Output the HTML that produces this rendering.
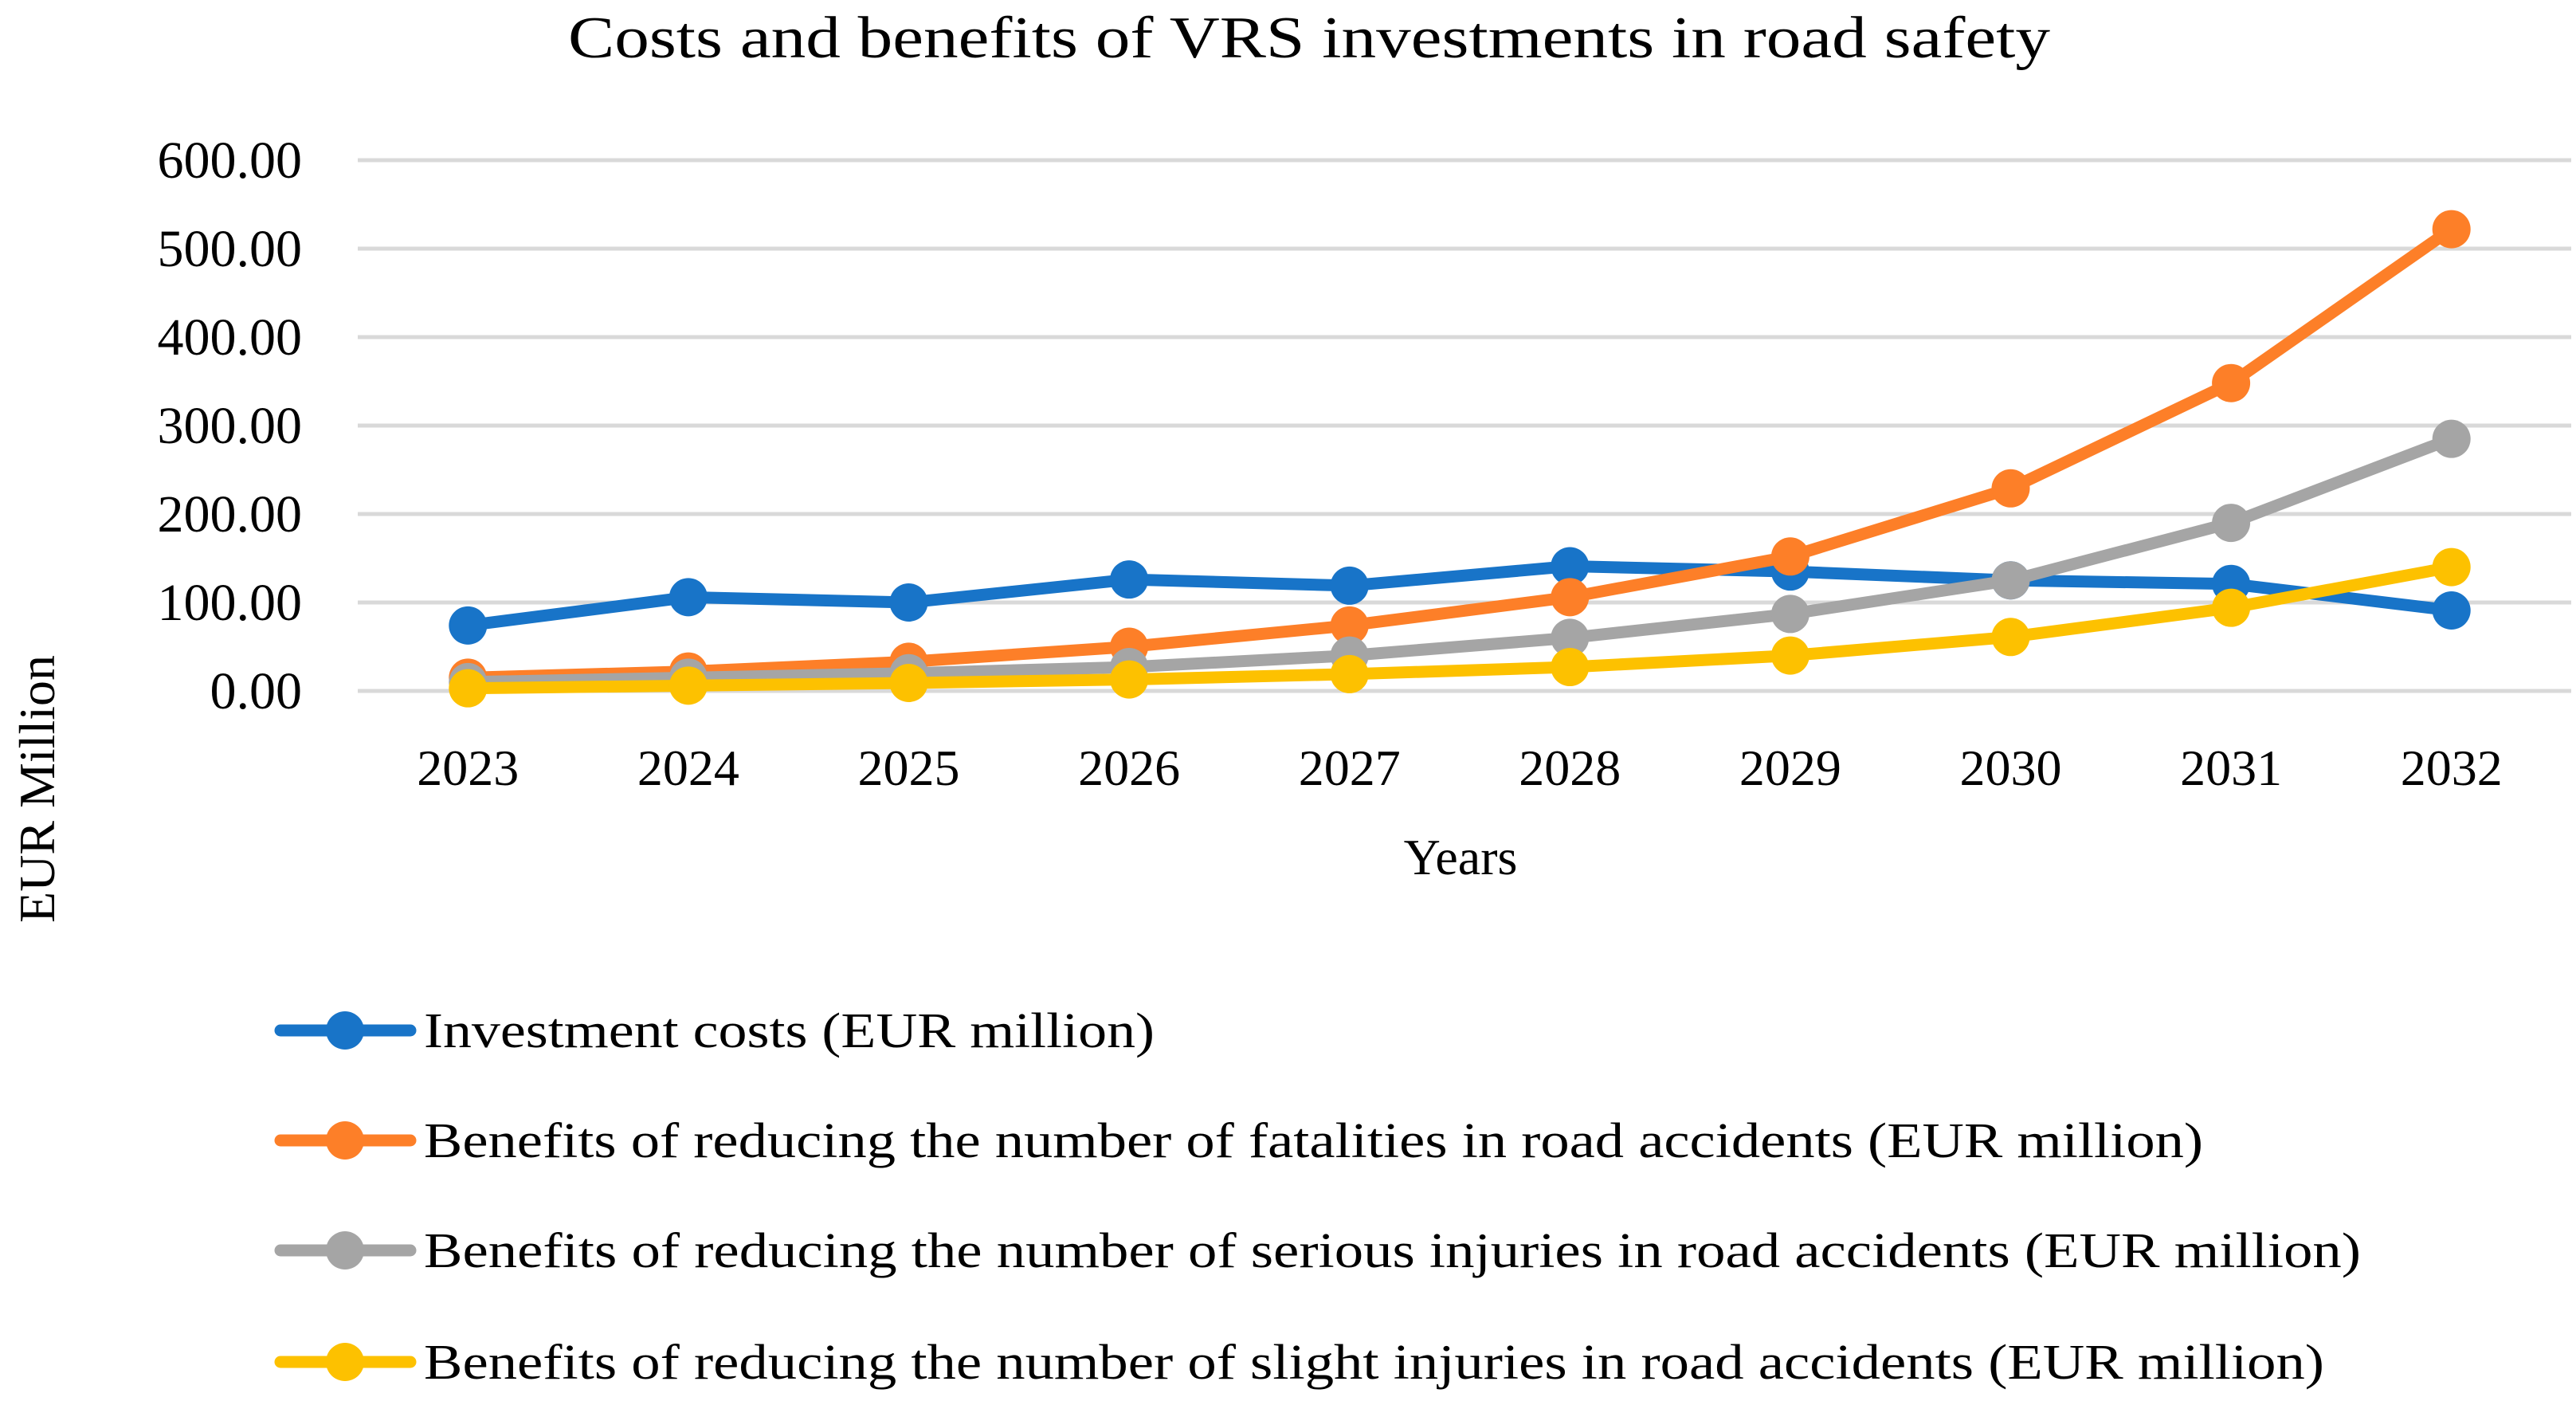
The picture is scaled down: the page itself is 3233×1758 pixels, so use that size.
<!DOCTYPE html>
<html><head><meta charset="utf-8"><style>
html,body{margin:0;padding:0;background:#fff;}
svg{display:block;font-family:"Liberation Serif",serif;}
</style></head><body>
<svg id="chart" width="3233" height="1758" viewBox="0 0 3233 1758" xmlns="http://www.w3.org/2000/svg">
<text x="1643" y="72" font-size="74" text-anchor="middle" textLength="1860" lengthAdjust="spacingAndGlyphs">Costs and benefits of VRS investments in road safety</text>
<g id="grid"></g>
<g id="yticks"></g>
<g id="xticks"></g>
<g id="series"></g>
<text x="1833" y="1097" font-size="64" text-anchor="middle">Years</text>
<text transform="translate(68,990) rotate(-90)" font-size="64" text-anchor="middle">EUR Million</text>
<g id="legend"></g>
</svg>
<script>
const years = ["2023","2024","2025","2026","2027","2028","2029","2030","2031","2032"];
const yTicks = [0,100,200,300,400,500,600];
const yTickLabels = ["0.00","100.00","200.00","300.00","400.00","500.00","600.00"];
const investmentCosts = [74,106,100,126,119,141,135,125,121,91];
const fatalitiesBenefits = [15,22,33,50,74,106,152,229,348,522];
const seriousBenefits = [10,15,20,27,40,60,87,125,190,285];
const slightBenefits = [3,6,9,13,19,27,40,61,94,140];
const seriesNames = ["Investment costs (EUR million)","Benefits of reducing the number of fatalities in road accidents (EUR million)","Benefits of reducing the number of serious injuries in road accidents (EUR million)","Benefits of reducing the number of slight injuries in road accidents (EUR million)"];

const NS="http://www.w3.org/2000/svg";
const plotL=449, plotR=3215, gridR=3227, y0=867, y600=201;
const xScale=i=>plotL+(plotR-plotL)/years.length*(i+0.5);
const yScale=v=>y0-(y0-y600)*v/600;
function mk(tag,attrs,parent){const e=document.createElementNS(NS,tag);for(const k in attrs)e.setAttribute(k,attrs[k]);parent.appendChild(e);return e;}
const grid=document.getElementById('grid'),yt=document.getElementById('yticks'),xt=document.getElementById('xticks'),sg=document.getElementById('series'),lg=document.getElementById('legend');
yTicks.forEach((v,i)=>{
  const l=mk('line',{x1:plotL,x2:gridR,y1:yScale(v),y2:yScale(v),stroke:'#d9d9d9','stroke-width':5},grid);
  
  
  const t=mk('text',{x:379,y:yScale(v)+22,'font-size':66,'text-anchor':'end'},yt);
  t.textContent=yTickLabels[i];
  
  
});
years.forEach((y,i)=>{
  const t=mk('text',{x:xScale(i),y:985,'font-size':64,'text-anchor':'middle'},xt);
  t.textContent=y;
  
  
});
const allSeries=[investmentCosts,fatalitiesBenefits,seriousBenefits,slightBenefits];
const colors=['#1874c8','#fd7f28','#a5a5a5','#fdc100'];
[0,1,2,3].forEach(s=>{
  const g=mk('g',{},sg);
  
  
  const pts=allSeries[s].map((v,i)=>xScale(i)+','+yScale(v)).join(' ');
  const pl=mk('polyline',{points:pts,fill:'none',stroke:colors[s],'stroke-width':15,'stroke-linejoin':'round','stroke-linecap':'round'},g);
  
  
  allSeries[s].forEach((v,i)=>{
    const c=mk('circle',{cx:xScale(i),cy:yScale(v),r:24,fill:colors[s]},g);
    
    
  });
});
const legY=[1293,1431,1569,1709];
const legW=[917,2233,2431,2385];
seriesNames.forEach((n,i)=>{
  const g=mk('g',{},lg);
  
  
  mk('line',{x1:352,x2:515,y1:legY[i],y2:legY[i],stroke:colors[i],'stroke-width':15,'stroke-linecap':'round'},g);
  mk('circle',{cx:433,cy:legY[i],r:24,fill:colors[i]},g);
  const t=mk('text',{x:532,y:legY[i]+21,'font-size':62,textLength:legW[i],lengthAdjust:'spacingAndGlyphs'},g);
  t.textContent=n;
});
</script>
</body></html>
